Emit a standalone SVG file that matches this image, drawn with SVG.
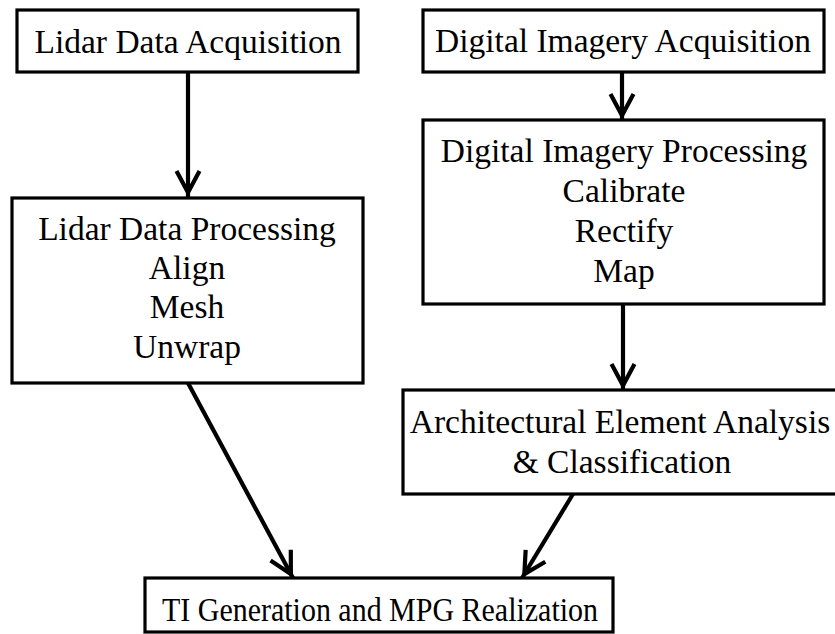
<svg xmlns="http://www.w3.org/2000/svg" width="835" height="634" viewBox="0 0 835 634">
<style>
.box{fill:#fff;stroke:#000;stroke-width:3.2}
.t{font-family:"Liberation Serif","Times New Roman",serif;font-size:33.5px;fill:#000;text-anchor:middle}
.c{stroke:#000;stroke-width:4.2;fill:none}
</style>
<defs>
<marker id="ah" markerUnits="userSpaceOnUse" viewBox="-30 -15 32 30" markerWidth="32" markerHeight="30" refX="0" refY="0" orient="auto">
<path d="M -26 -11.5 L -4.5 0 L -26 11.5" fill="none" stroke="#000" stroke-width="4.2"/>
</marker>
</defs>
<rect width="835" height="634" fill="#fff"/>
<g id="connectors">
<line class="c" x1="188" y1="72" x2="188" y2="197" marker-end="url(#ah)"/>
<line class="c" x1="622" y1="72" x2="622" y2="120" marker-end="url(#ah)"/>
<line class="c" x1="623" y1="304" x2="623" y2="390" marker-end="url(#ah)"/>
<line class="c" x1="188" y1="383" x2="293" y2="578" marker-end="url(#ah)"/>
<line class="c" x1="573" y1="494" x2="522" y2="578" marker-end="url(#ah)"/>
</g>
<g id="lidar-acq">
<rect class="box" x="17" y="10" width="341" height="62"/>
<text class="t" x="188" y="53">Lidar Data Acquisition</text>
</g>
<g id="img-acq">
<rect class="box" x="423" y="10" width="401" height="62"/>
<text class="t" x="623" y="52">Digital Imagery Acquisition</text>
</g>
<g id="img-proc">
<rect class="box" x="423" y="120" width="401" height="184"/>
<text class="t" x="624" y="162">Digital Imagery Processing</text>
<text class="t" x="624" y="202">Calibrate</text>
<text class="t" x="624" y="242">Rectify</text>
<text class="t" x="624" y="282">Map</text>
</g>
<g id="lidar-proc">
<rect class="box" x="12" y="198" width="351" height="185"/>
<text class="t" x="187" y="240">Lidar Data Processing</text>
<text class="t" x="187" y="279">Align</text>
<text class="t" x="187" y="318">Mesh</text>
<text class="t" x="187" y="358">Unwrap</text>
</g>
<g id="arch">
<rect class="box" x="403" y="390" width="436" height="104"/>
<text class="t" x="620" y="433">Architectural Element Analysis</text>
<text class="t" x="622" y="473">&amp; Classification</text>
</g>
<g id="ti">
<rect class="box" x="145" y="578" width="468" height="54"/>
<text class="t" x="380" y="621" textLength="436" lengthAdjust="spacingAndGlyphs">TI Generation and MPG Realization</text>
</g>
</svg>
